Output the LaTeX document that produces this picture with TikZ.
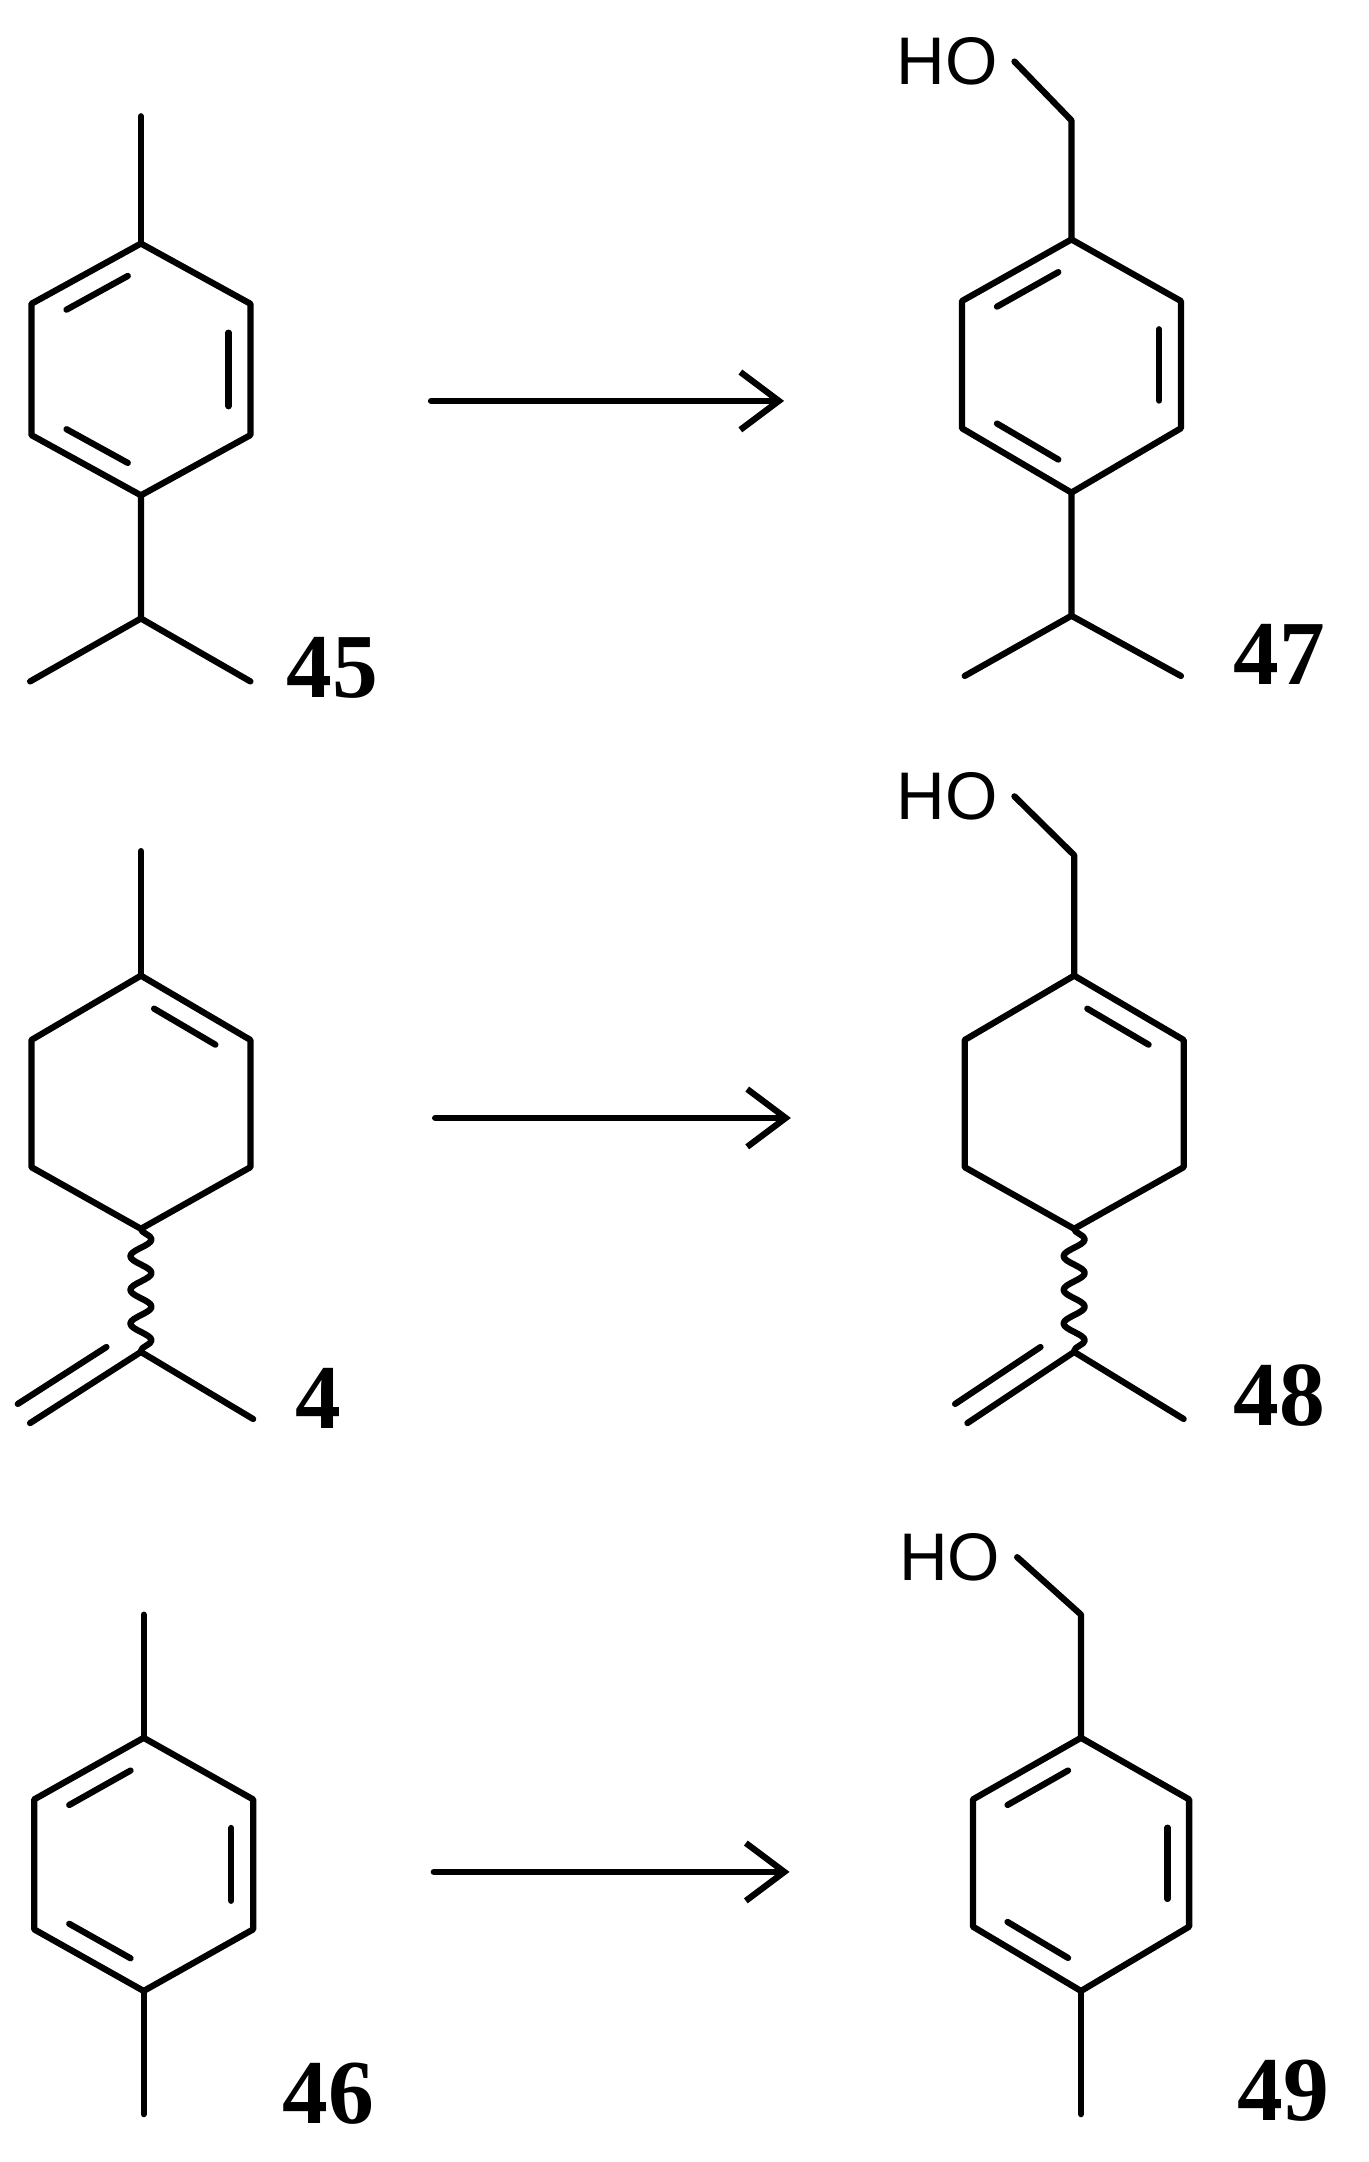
\documentclass[tikz,border=0pt]{standalone}
\usepackage{fontspec}
\newfontfamily\hofont{Liberation Sans}
\newfontfamily\lblfont{Liberation Serif}
\usetikzlibrary{calc,arrows.meta,decorations.pathmorphing}
\tikzset{bond/.style={line width=1.3pt,line cap=round,line join=round},
 rxn/.style={bond,-{Straight Barb[length=8pt,width=12pt,line width=1.3pt]}},
 wavy/.style={bond,decorate,decoration={snake,segment length=7pt,amplitude=2.2pt}},
 lbl/.style={font=\lblfont\fontsize{19}{22}\selectfont\bfseries},
 ho/.style={font=\hofont\fontsize{14}{16}\selectfont}}
\newcommand{\inner}[3]{\draw[bond] ($($(#1)!0.15!(#2)$)!0.2!(#3)$) -- ($($(#1)!0.85!(#2)$)!0.2!(#3)$);}
\newcommand{\ring}[7]{%
 \coordinate (#1t) at (#2,#3); \coordinate (#1ur) at (#2+#7,#4);
 \coordinate (#1lr) at (#2+#7,#5); \coordinate (#1b) at (#2,#6);
 \coordinate (#1ll) at (#2-#7,#5); \coordinate (#1ul) at (#2-#7,#4);
 \coordinate (#1c) at (#2,{(#3+#6)/2});
 \draw[bond] (#1t)--(#1ur)--(#1lr)--(#1b)--(#1ll)--(#1ul)--cycle;}
\begin{document}
\begin{tikzpicture}[x=0.01cm,y=-0.01cm]
\useasboundingbox (0,0) rectangle (1000,1580);
% 45
\ring{a}{103}{178}{222}{318}{362}{80}
\inner{at}{aul}{ac}\inner{aur}{alr}{ac}\inner{ab}{all}{ac}
\coordinate (am) at (103,85); \coordinate (ai) at (103,452);
\coordinate (ai1) at (22,498); \coordinate (ai2) at (183,498);
\draw[bond] (at)--(am); \draw[bond] (ab)--(ai)--(ai1); \draw[bond] (ai)--(ai2);
\node[lbl] (l45) at (243,488) {45};
% arrow 1
\coordinate (r1s) at (315,293); \coordinate (r1e) at (573,293);
\draw[rxn] (r1s)--(r1e);
% 47
\ring{b}{783}{175}{220}{313}{360}{80}
\inner{bt}{bul}{bc}\inner{bur}{blr}{bc}\inner{bb}{bll}{bc}
\coordinate (bm) at (783,88); \node[ho] (ho1) at (692,45) {HO};
\draw[bond] (bt)--(bm)--(ho1.east);
\coordinate (bi) at (783,450); \coordinate (bi1) at (705,494); \coordinate (bi2) at (863,494);
\draw[bond] (bb)--(bi)--(bi1); \draw[bond] (bi)--(bi2);
\node[lbl] (l47) at (935,478) {47};
% 4
\ring{c}{103}{713}{760}{853}{898}{80}
\inner{ct}{cur}{cc}
\coordinate (cm) at (103,622); \draw[bond] (ct)--(cm);
\coordinate (ci) at (103,988); \coordinate (ci1) at (22,1040); \coordinate (ci2) at (185,1037);
\draw[wavy] (cb)--(ci);
\draw[bond] (ci)--(ci1); \draw[bond] (ci)--(ci2);
\draw[bond] ($(ci)!0.2!(ci1)+(-9,-14)$) -- ($(ci1)+(-9,-14)$);
\node[lbl] (l4) at (233,1022) {4};
% arrow 2
\coordinate (r2s) at (318,817); \coordinate (r2e) at (578,817);
\draw[rxn] (r2s)--(r2e);
% 48
\ring{d}{785}{713}{760}{853}{898}{80}
\inner{dt}{dur}{dc}
\coordinate (dm) at (785,625); \node[ho] (ho2) at (692,582) {HO};
\draw[bond] (dt)--(dm)--(ho2.east);
\coordinate (di) at (785,988); \coordinate (di1) at (707,1040); \coordinate (di2) at (865,1037);
\draw[wavy] (db)--(di);
\draw[bond] (di)--(di1); \draw[bond] (di)--(di2);
\draw[bond] ($(di)!0.2!(di1)+(-9,-14)$) -- ($(di1)+(-9,-14)$);
\node[lbl] (l48) at (935,1020) {48};
% 46
\ring{e}{105}{1270}{1315}{1410}{1455}{80}
\inner{et}{eul}{ec}\inner{eur}{elr}{ec}\inner{eb}{ell}{ec}
\coordinate (em1) at (105,1180); \coordinate (em2) at (105,1545);
\draw[bond] (et)--(em1); \draw[bond] (eb)--(em2);
\node[lbl] (l46) at (240,1530) {46};
% arrow 3
\coordinate (r3s) at (317,1368); \coordinate (r3e) at (577,1368);
\draw[rxn] (r3s)--(r3e);
% 49
\ring{f}{790}{1270}{1315}{1408}{1455}{79}
\inner{ft}{ful}{fc}\inner{fur}{flr}{fc}\inner{fb}{fll}{fc}
\coordinate (fm) at (790,1180); \node[ho] (ho3) at (694,1138) {HO};
\draw[bond] (ft)--(fm)--(ho3.east);
\coordinate (fm2) at (790,1545); \draw[bond] (fb)--(fm2);
\node[lbl] (l49) at (938,1528) {49};
\end{tikzpicture}
\end{document}
